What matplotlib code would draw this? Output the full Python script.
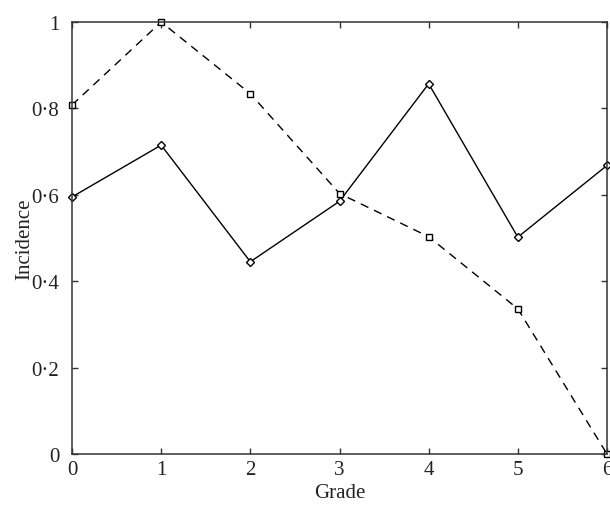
import matplotlib.pyplot as plt
import numpy as np

grade = [0, 1, 2, 3, 4, 5, 6]
solid_vals = [0.595, 0.715, 0.445, 0.585, 0.857, 0.502, 0.668]
dashed_vals = [0.808, 1.0, 0.834, 0.603, 0.503, 0.336, 0.0]
ytick_vals = [0, 0.2, 0.4, 0.6, 0.8, 1.0]
ytick_labels = ['0', '0·2', '0·4', '0·6', '0·8', '1']

plt.rcParams['font.family'] = ['Liberation Serif', 'DejaVu Serif']

fig = plt.figure(figsize=(6.1, 5.06), dpi=100)
ax = fig.add_axes([72 / 610, 1 - 455 / 506, (607 - 72) / 610, (455 - 23) / 506])

ax.plot(grade, solid_vals, color='black', linewidth=1.0, marker='D',
        markersize=4.5, markerfacecolor='white', markeredgecolor='black',
        markeredgewidth=1.0, clip_on=False)
ax.plot(grade, dashed_vals, color='black', linewidth=1.0, linestyle=(0, (6, 4.5)),
        marker='s', markersize=4.5, markerfacecolor='white', markeredgecolor='black',
        markeredgewidth=1.0, clip_on=False)

ax.set_xlim(0, 6)
ax.set_ylim(0, 1)
ax.set_xticks(grade)
ax.set_yticks(ytick_vals)
ax.set_yticklabels(ytick_labels)
ax.tick_params(direction='in', length=4, width=1, labelsize=15,
               top=True, right=True, color='#333333', labelcolor='#222222')
ax.tick_params(axis='x', pad=4)
ax.tick_params(axis='y', pad=9)
for s in ax.spines.values():
    s.set_linewidth(1.1)
    s.set_color('#333333')

ax.set_xlabel('Grade', fontsize=15, color='#222222', labelpad=3)
ax.set_ylabel('Incidence', fontsize=15, color='#222222', labelpad=-2)

fig.savefig('out.png', dpi=100)
